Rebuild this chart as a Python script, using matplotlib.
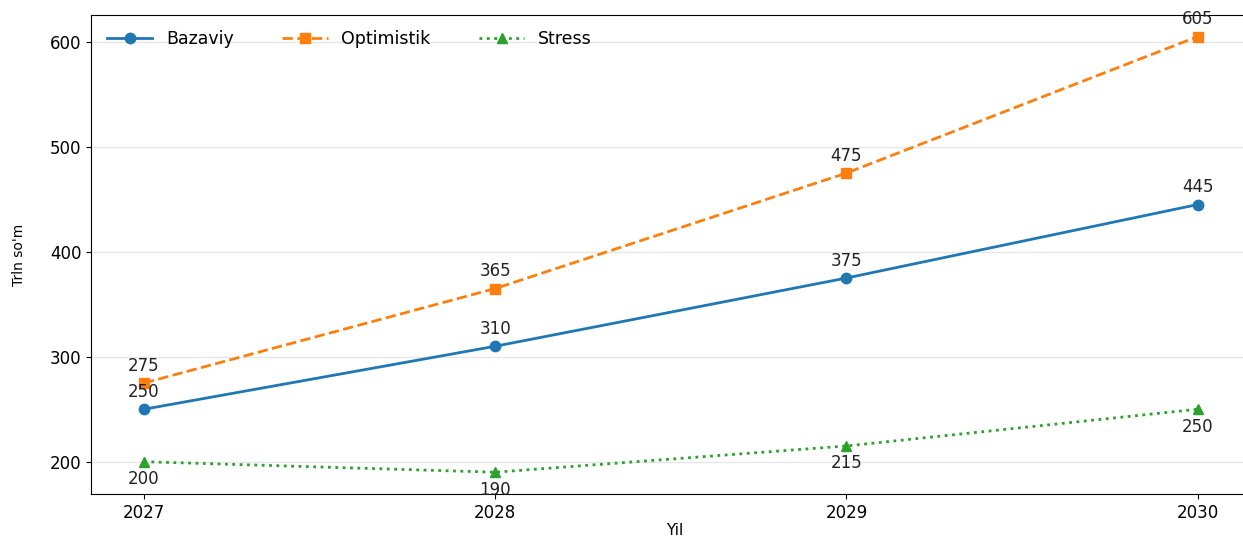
import matplotlib
matplotlib.use("Agg")
import matplotlib.pyplot as plt

years = [2027, 2028, 2029, 2030]
bazaviy = [250, 310, 375, 445]
optimistik = [275, 365, 475, 605]
stress = [200, 190, 215, 250]

series = [
    ("Bazaviy", bazaviy, "#1f77b4", "-", "o", 1),
    ("Optimistik", optimistik, "#ff7f0e", "--", "s", 1),
    ("Stress", stress, "#2ca02c", ":", "^", -1),
]

fig = plt.figure(figsize=(12.43, 5.39), dpi=100)
ax = fig.add_axes([0.0735, 0.0835, 0.938, 0.889])

for name, vals, color, ls, mk, side in series:
    ax.plot(years, vals, color=color, linestyle=ls, marker=mk,
            linewidth=2, markersize=7.5, label=name)
    for x, y in zip(years, vals):
        ax.annotate(f"{y}", (x, y), textcoords="offset points",
                    xytext=(0, 6 * side), ha="center",
                    va="bottom" if side > 0 else "top", fontsize=12,
                    color="#222222")

ax.set_xlim(2026.85, 2030.17)
ax.set_xticks(years)
ax.set_xticklabels([str(y) for y in years])
ax.set_yticks([200, 300, 400, 500, 600])
ax.tick_params(labelsize=12)
ax.grid(axis="y", color="#e6e6e6", linewidth=1)
ax.set_axisbelow(True)
ax.set_xlabel("Yil", fontsize=11, labelpad=1)
ax.set_ylabel("Trln so'm", fontsize=10)
ax.yaxis.set_label_coords(-0.056, 0.5)

ax.legend(loc="upper left", ncol=3, frameon=False, fontsize=12.5,
          handlelength=2.6, columnspacing=2.8, borderaxespad=0.5)

fig.savefig("out.png", dpi=100)
